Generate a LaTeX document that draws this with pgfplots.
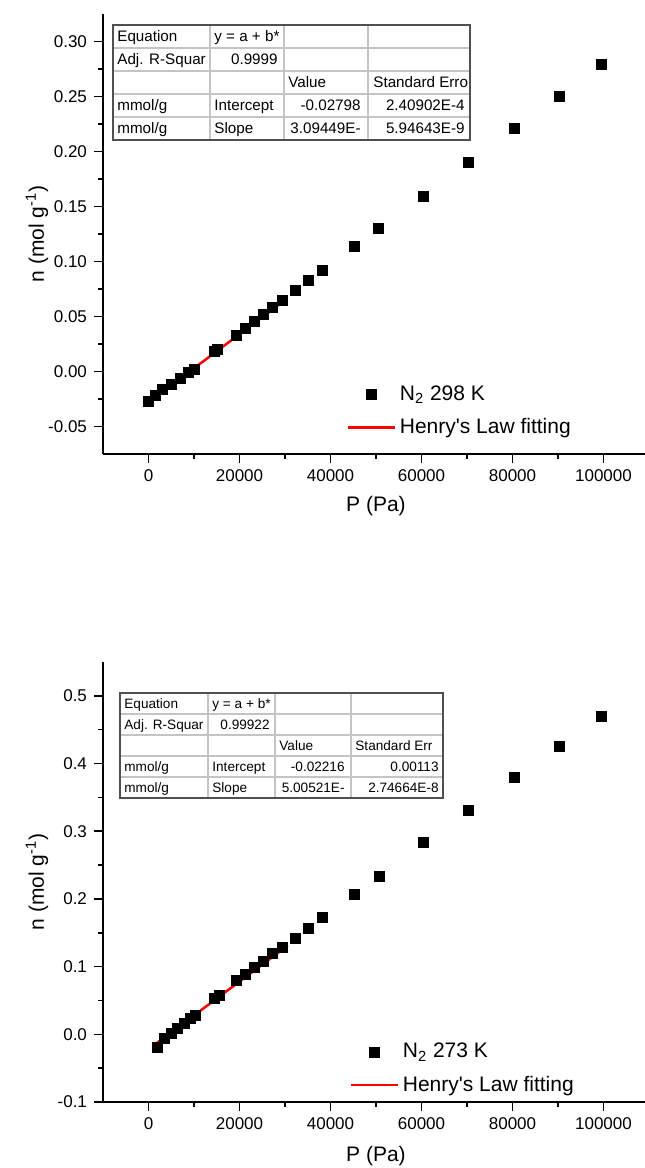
\documentclass[border=0pt]{standalone}
\usepackage{fontspec}
\setmainfont{Liberation Sans}
\usepackage{pgfplots}
\usepackage{pgfplotstable}
\pgfplotsset{compat=1.18}
\definecolor{tblouter}{HTML}{505050}
\definecolor{tblinner}{HTML}{C4C4C4}

\pgfplotstableread{
P n
0 -0.027
1500 -0.022
3000 -0.0166
5050 -0.012
7030 -0.006
8860 -0.0008
10180 0.0023
14500 0.018
15200 0.020
19270 0.033
21320 0.039
23300 0.0457
25200 0.0515
27330 0.0584
29380 0.0645
32230 0.0735
35240 0.083
38300 0.092
45270 0.114
50480 0.130
60500 0.159
70300 0.190
80500 0.221
90200 0.250
99500 0.279
}\datatop

\pgfplotstableread{
P n
1900 -0.019
3400 -0.006
5000 0.001
6400 0.009
7800 0.016
9200 0.024
10200 0.028
14500 0.053
15500 0.057
19300 0.079
21200 0.088
23300 0.099
25200 0.107
27300 0.119
29400 0.128
32200 0.142
35200 0.156
38200 0.172
45300 0.207
50700 0.234
60500 0.283
70300 0.331
80500 0.380
90200 0.426
99500 0.470
}\databot

\pgfplotsset{
 orig/.style={
  scale only axis, width=273pt, height=220pt,
  xmin=-10000, xmax=110000,
  axis x line=bottom, axis y line=left,
  axis line style={-, line width=1pt, black},
  every outer x axis line/.append style={-},
  every outer y axis line/.append style={-},
  tick align=outside,
  major tick length=4.5pt, minor tick length=2.5pt,
  every tick/.style={black, line width=0.75pt},
  xtick={0,20000,40000,60000,80000,100000}, minor x tick num=1,
  minor y tick num=1,
  scaled x ticks=false, scaled y ticks=false,
  /pgf/number format/assume math mode=true,
  xticklabel style={/pgf/number format/fixed, /pgf/number format/precision=0, /pgf/number format/1000 sep={}},
  tick label style={font=\fontsize{8.5}{10}\selectfont},
  label style={font=\fontsize{10.5}{12}\selectfont},
  xlabel={P (Pa)}, ylabel={n (mol g\textsuperscript{-1})},
  every axis y label/.append style={at={(axis description cs:-0.121,0.5)}, anchor=center},
  legend style={draw=none, fill=none, inner sep=0pt, row sep=3.5pt, font=\fontsize{10.5}{12}\selectfont, anchor=west},
  legend cell align=left,
  legend image code/.code={\draw[mark repeat=2,mark phase=2,#1] plot coordinates {(0pt,0pt) (11.75pt,0pt) (23.5pt,0pt)};},
 }
}

\begin{document}
\begin{tikzpicture}
\begin{axis}[orig, at={(51.5pt,357pt)}, anchor=south west,
  ymin=-0.075, ymax=0.325,
  ytick={-0.05,0,0.05,0.10,0.15,0.20,0.25,0.30},
  yticklabel style={/pgf/number format/fixed, /pgf/number format/fixed zerofill, /pgf/number format/precision=2},
  every axis x label/.append style={at={(axis description cs:0.5,-0.118)}, anchor=center},
  legend style={at={(axis description cs:0.445,0.0968)}}]
\addplot[only marks, mark=square*, mark size=2.5pt, black] table[x=P,y=n] {\datatop};
\addlegendentry{N\textsubscript{2} 298 K}
\addplot[red, line width=1.25pt] coordinates {(0,-0.02798) (29000,0.06176)};
\addlegendentry{Henry\textquotesingle s Law fitting}
\end{axis}

\begin{axis}[orig, at={(51.5pt,33pt)}, anchor=south west,
  ymin=-0.1, ymax=0.55,
  ytick={-0.1,0,0.1,0.2,0.3,0.4,0.5},
  yticklabel style={/pgf/number format/fixed, /pgf/number format/fixed zerofill, /pgf/number format/precision=1},
  every axis x label/.append style={at={(axis description cs:0.5,-0.124)}, anchor=center},
  legend style={at={(axis description cs:0.4505,0.0758)}}]
\addplot[only marks, mark=square*, mark size=2.5pt, black] table[x=P,y=n] {\databot};
\addlegendentry{N\textsubscript{2} 273 K}
\addplot[red, line width=1.25pt] coordinates {(1900,-0.01265) (30600,0.1310)};
\addlegendentry{Henry\textquotesingle s Law fitting}
\end{axis}

\begin{scope}[x=0.5pt,y=-0.5pt,yshift=584pt]
 % top table
 \fill[white] (113,25) rectangle (470,140);
 \draw[tblinner, line width=0.6pt] (210,25)--(210,140) (284,25)--(284,140) (368,25)--(368,140)
   (113,48)--(470,48) (113,71)--(470,71) (113,94)--(470,94) (113,117)--(470,117);
 \draw[tblouter, line width=0.8pt] (113,25) rectangle (470,140);
 \begin{scope}[every node/.style={inner sep=0pt, font=\fontsize{7.6}{9}\selectfont}]
  \node[anchor=base west] at (117,42) {Equation};
  \node[anchor=base west] at (214,42) {y = a + b*};
  \node[anchor=base west] at (117,65) {Adj. R-Squar};
  \node[anchor=base east] at (278,65) {0.9999};
  \node[anchor=base west] at (288,88) {Value};
  \node[anchor=base west] at (373,88) {Standard Erro};
  \node[anchor=base west] at (117,111) {mmol/g};
  \node[anchor=base west] at (214,111) {Intercept};
  \node[anchor=base east] at (361,111) {-0.02798};
  \node[anchor=base east] at (465,111) {2.40902E-4};
  \node[anchor=base west] at (117,134) {mmol/g};
  \node[anchor=base west] at (214,134) {Slope};
  \node[anchor=base east] at (361,134) {3.09449E-};
  \node[anchor=base east] at (465,134) {5.94643E-9};
 \end{scope}
 % bottom table
 \fill[white] (120,693) rectangle (443,798);
 \draw[tblinner, line width=0.6pt] (208,693)--(208,798) (275,693)--(275,798) (351,693)--(351,798)
   (120,714)--(443,714) (120,735)--(443,735) (120,756)--(443,756) (120,777)--(443,777);
 \draw[tblouter, line width=0.8pt] (120,693) rectangle (443,798);
 \begin{scope}[every node/.style={inner sep=0pt, font=\fontsize{6.8}{8}\selectfont}]
  \node[anchor=base west] at (124,708.5) {Equation};
  \node[anchor=base west] at (212,708.5) {y = a + b*};
  \node[anchor=base west] at (124,729.5) {Adj. R-Squar};
  \node[anchor=base east] at (270,729.5) {0.99922};
  \node[anchor=base west] at (279,750.5) {Value};
  \node[anchor=base west] at (355,750.5) {Standard Err};
  \node[anchor=base west] at (124,771.5) {mmol/g};
  \node[anchor=base west] at (212,771.5) {Intercept};
  \node[anchor=base east] at (345,771.5) {-0.02216};
  \node[anchor=base east] at (439,771.5) {0.00113};
  \node[anchor=base west] at (124,792.5) {mmol/g};
  \node[anchor=base west] at (212,792.5) {Slope};
  \node[anchor=base east] at (345,792.5) {5.00521E-};
  \node[anchor=base east] at (439,792.5) {2.74664E-8};
 \end{scope}
\end{scope}
\pgfresetboundingbox
\useasboundingbox (0,0) rectangle (322pt,584pt);
\end{tikzpicture}
\end{document}
